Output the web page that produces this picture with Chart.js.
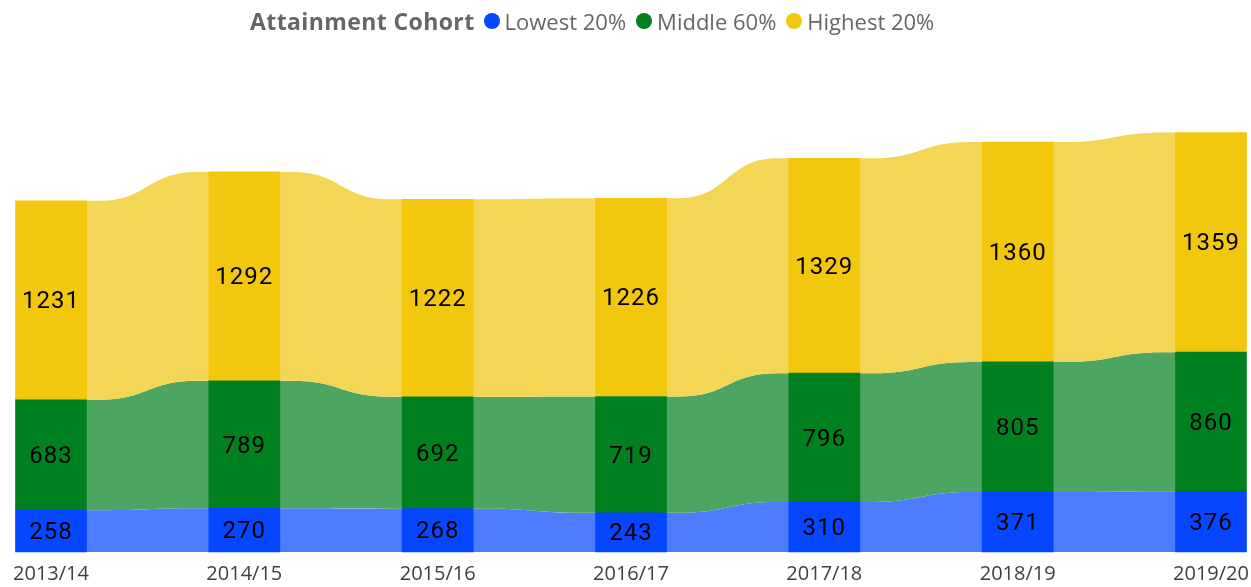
<!DOCTYPE html>
<html>
<head>
<meta charset="utf-8">
<script src="https://cdn.jsdelivr.net/npm/chart.js@4/dist/chart.umd.min.js"></script>
<style>
    html, body { margin: 0; padding: 0; background: #fff; }
    #wrap { position: relative; width: 1251px; height: 587px; }
    #legend {
        position: absolute; left: 250px; top: 4px; height: 34px;
        display: flex; align-items: center;
        font-family: "Open Sans", sans-serif; font-size: 22px; color: #666;
        white-space: nowrap;
    }
    #legend .title { font-weight: 700; font-size: 23px; letter-spacing: 0.4px; margin-right: 9px; }
    #legend .item { display: flex; align-items: center; margin-right: 10px; }
    #legend .dot { width: 16px; height: 16px; border-radius: 50%; margin-right: 5px; }
</style>
</head>
<body>
<div id="wrap">
    <div id="legend"></div>
    <canvas id="ribbonChart" width="1251" height="587"></canvas>
</div>
<script>
const categories = ['2013/14', '2014/15', '2015/16', '2016/17', '2017/18', '2018/19', '2019/20'];
const lowest20 = [258, 270, 268, 243, 310, 371, 376];
const middle60 = [683, 789, 692, 719, 796, 805, 860];
const highest20 = [1231, 1292, 1222, 1226, 1329, 1360, 1359];
const seriesNames = ['Lowest 20%', 'Middle 60%', 'Highest 20%'];
const legendTitle = 'Attainment Cohort';

const barColors = ['#0646FF', '#00801E', '#F2C80F'];
const ribbonColors = ['#4D7CFF', '#4DA562', '#F4D656'];

// legend row
let legend = document.getElementById('legend');
legend.innerHTML = '<span class="title">' + legendTitle + '</span>' +
    seriesNames.map(function (name, i) {
        return '<span class="item"><span class="dot" style="background:' + barColors[i] + '"></span>' + name + '</span>';
    }).join('');

// ribbons between the bars
const ribbonPlugin = {
    id: 'ribbons',
    beforeDatasetsDraw: function (chart) {
        let ctx = chart.ctx;
        ctx.save();
        chart.data.datasets.forEach(function (ds, d) {
            let bars = chart.getDatasetMeta(d).data;
            ctx.fillStyle = ribbonColors[d];
            for (let i = 0; i < bars.length - 1; i++) {
                let a = bars[i], b = bars[i + 1];
                let x0 = a.x + a.width / 2, x1 = b.x - b.width / 2;
                let mid = (x0 + x1) / 2;
                let half = (x1 - x0) * 0.4;
                ctx.beginPath();
                ctx.moveTo(x0 - 1, a.y);
                ctx.lineTo(mid - half, a.y);
                ctx.bezierCurveTo(mid, a.y, mid, b.y, mid + half, b.y);
                ctx.lineTo(x1 + 1, b.y);
                ctx.lineTo(x1 + 1, b.base);
                ctx.lineTo(mid + half, b.base);
                ctx.bezierCurveTo(mid, b.base, mid, a.base, mid - half, a.base);
                ctx.lineTo(x0 - 1, a.base);
                ctx.closePath();
                ctx.fill();
            }
        });
        ctx.restore();
    }
};

// value labels in the middle of each bar
const valueLabelPlugin = {
    id: 'valueLabels',
    afterDatasetsDraw: function (chart) {
        let ctx = chart.ctx;
        ctx.save();
        ctx.font = '24px Roboto';
        ctx.letterSpacing = '1px';
        ctx.fillStyle = '#000';
        ctx.textAlign = 'center';
        ctx.textBaseline = 'middle';
        chart.data.datasets.forEach(function (ds, d) {
            chart.getDatasetMeta(d).data.forEach(function (bar, i) {
                ctx.fillText(ds.data[i], bar.x, (bar.y + bar.base) / 2 + 2);
            });
        });
        ctx.restore();
    }
};

new Chart(document.getElementById('ribbonChart'), {
    type: 'bar',
    data: {
        labels: categories,
        datasets: [
            { label: seriesNames[0], data: lowest20, backgroundColor: barColors[0] },
            { label: seriesNames[1], data: middle60, backgroundColor: barColors[1] },
            { label: seriesNames[2], data: highest20, backgroundColor: barColors[2] }
        ]
    },
    options: {
        responsive: false,
        animation: false,
        layout: {
            padding: { left: 51, right: 40, top: 67, bottom: 4 }
        },
        datasets: {
            bar: { barThickness: 71, clip: false, borderWidth: 0 }
        },
        plugins: {
            legend: { display: false },
            tooltip: { enabled: false }
        },
        scales: {
            x: {
                stacked: true,
                offset: false,
                grid: { display: false },
                border: { display: false },
                afterFit: function (scale) {
                    scale.paddingLeft = 0;
                    scale.paddingRight = 0;
                    scale.height = 31;
                },
                ticks: {
                    padding: 2,
                    color: '#404040',
                    maxRotation: 0,
                    font: { family: 'Open Sans', size: 20 }
                }
            },
            y: {
                stacked: true,
                display: false,
                min: 0,
                max: 3000
            }
        }
    },
    plugins: [ribbonPlugin, valueLabelPlugin]
});
</script>
</body>
</html>
